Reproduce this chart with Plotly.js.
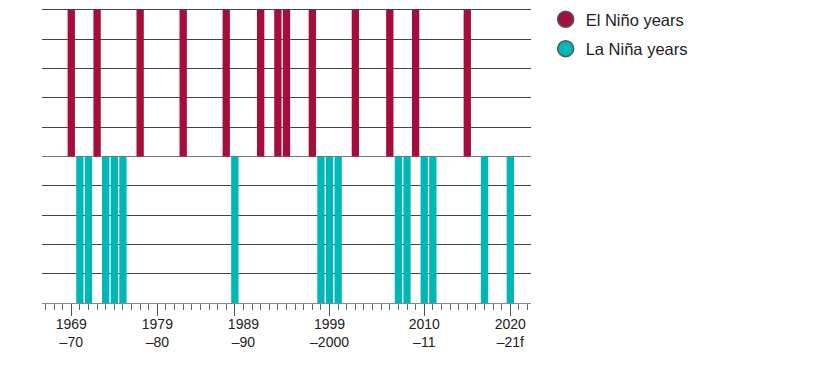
<!DOCTYPE html>
<html>
<head>
<meta charset="utf-8">
<script src="https://cdn.plot.ly/plotly-3.0.1.min.js"></script>
<style>html,body{margin:0;padding:0;background:#fff;}#chart{width:816px;height:366px;}</style>
</head>
<body>
<div id="chart"></div>
<script>
// Data
const elNinoYears = [1969, 1972, 1977, 1982, 1987, 1991, 1993, 1994, 1997, 2002, 2006, 2009, 2015];
const elNinoValues = [5, 5, 5, 5, 5, 5, 5, 5, 5, 5, 5, 5, 5];
const laNinaYears = [1970, 1971, 1973, 1974, 1975, 1988, 1998, 1999, 2000, 2007, 2008, 2010, 2011, 2017, 2020];
const laNinaValues = [-5, -5, -5, -5, -5, -5, -5, -5, -5, -5, -5, -5, -5, -5, -5];
const majorTickYears = [1969, 1979, 1988, 1999, 2010, 2020];
const labelYears = [1969, 1979, 1989, 1999, 2010, 2020];
const labelText = ['1969<br>–70', '1979<br>–80', '1989<br>–90', '1999<br>–2000', '2010<br>–11', '2020<br>–21f'];
const seriesNames = ['El Niño years', 'La Niña years'];

const red = '#a50d3a';
const teal = '#00b7b8';
const FONT = 'Liberation Sans, Arial, sans-serif';

const traces = [
  {type: 'bar', x: elNinoYears, y: elNinoValues, marker: {color: red}, showlegend: false, hoverinfo: 'x'},
  {type: 'bar', x: laNinaYears, y: laNinaValues, marker: {color: teal}, showlegend: false, hoverinfo: 'x'},
  {type: 'scatter', mode: 'markers', x: [null], y: [null], name: seriesNames[0], legendgroup: 'a',
   marker: {color: red, size: 16, line: {color: '#555', width: 1.5}}},
  {type: 'scatter', mode: 'markers', x: [null], y: [null], name: seriesNames[1], legendgroup: 'b',
   marker: {color: teal, size: 16, line: {color: '#555', width: 1.5}}},
  {type: 'scatter', mode: 'markers', x: [null], y: [null], xaxis: 'x2', showlegend: false, hoverinfo: 'skip'}
];

const xr = [1965.6, 2022.4];

const layout = {
  width: 816, height: 366,
  margin: {l: 42, r: 285, t: 7, b: 63, autoexpand: false},
  paper_bgcolor: '#fff', plot_bgcolor: '#fff',
  font: {family: FONT, size: 16, color: '#222'},
  barmode: 'overlay',
  bargap: 0.15,
  showlegend: true,
  legend: {x: 1.03, xanchor: 'left', y: 1.017, yanchor: 'top',
           traceorder: 'grouped', tracegroupgap: 5,
           font: {family: FONT, size: 16.5, color: '#222'},
           bgcolor: 'rgba(0,0,0,0)', itemclick: false},
  xaxis: {
    range: xr, fixedrange: true,
    showgrid: false, zeroline: false,
    showline: true, linecolor: '#888', linewidth: 1,
    tickmode: 'array', tickvals: majorTickYears, showticklabels: false,
    ticks: 'outside', ticklen: 12, tickwidth: 1, tickcolor: '#555',
    minor: {dtick: 1, tick0: 0, ticks: 'outside', ticklen: 6, tickwidth: 1, tickcolor: '#666', showgrid: false}
  },
  xaxis2: {
    overlaying: 'x', anchor: 'y', side: 'bottom',
    range: xr, fixedrange: true,
    showgrid: false, zeroline: false, showline: false,
    tickmode: 'array', tickvals: labelYears, ticktext: labelText,
    ticks: 'outside', ticklen: 8, tickcolor: 'rgba(0,0,0,0)',
    tickfont: {family: FONT, size: 14, color: '#222'}
  },
  yaxis: {
    range: [-5, 5.1], fixedrange: true,
    tickmode: 'linear', tick0: 0, dtick: 1,
    showticklabels: false, ticks: '',
    showgrid: true, gridcolor: '#444', gridwidth: 1,
    zeroline: true, zerolinecolor: '#777', zerolinewidth: 1,
    showline: false
  }
};

Plotly.newPlot('chart', traces, layout, {displayModeBar: false, staticPlot: true});
</script>
</body>
</html>
